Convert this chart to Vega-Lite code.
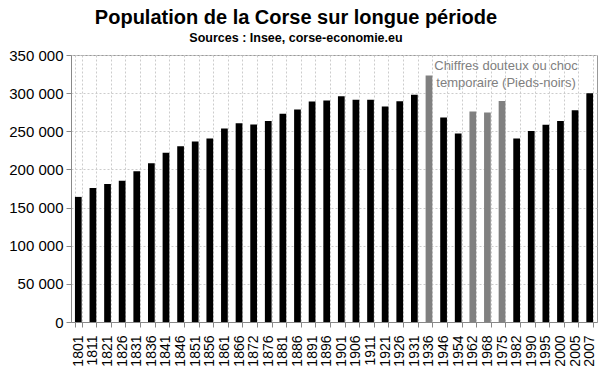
{
  "$schema": "https://vega.github.io/schema/vega-lite/v6.json",
  "width": 526,
  "height": 267,
  "autosize": "none",
  "padding": {"left": 71, "top": 55, "right": 3, "bottom": 50},
  "background": "white",
  "title": {
    "text": "Population de la Corse sur longue période",
    "subtitle": "Sources : Insee, corse-economie.eu",
    "font": "Liberation Sans",
    "fontSize": 20,
    "fontWeight": "bold",
    "color": "black",
    "subtitleFont": "Liberation Sans Narrow, Liberation Sans",
    "subtitleFontSize": 12.5,
    "subtitleFontWeight": "bold",
    "subtitleColor": "black",
    "subtitlePadding": 4,
    "anchor": "middle",
    "dx": -38,
    "offset": 4
  },
  "config": {
    "view": {"stroke": "#999999", "strokeWidth": 1},
    "font": "Liberation Sans",
    "axis": {"labelOverlap": false, "labelFlush": false},
    "axisY": {"labelOverlap": false, "labelFlush": false}
  },
  "encoding": {
    "x": {
      "field": "year",
      "type": "ordinal",
      "sort": null,
      "scale": {"paddingInner": 0.54, "paddingOuter": 0.27},
      "axis": {
        "title": null,
        "labelAngle": -90,
        "labelAlign": "right",
        "labelBaseline": "middle",
        "labelFontSize": 14,
        "labelColor": "black",
        "labelPadding": 8,
        "labelOverlap": false,
        "tickBand": "extent",
        "tickSize": 5,
        "tickColor": "#888888",
        "domainColor": "#888888",
        "grid": true,
        "gridColor": "#cccccc",
        "gridDash": [2, 2],
        "gridWidth": 1
      }
    },
    "y": {
      "field": "pop",
      "type": "quantitative",
      "scale": {"domain": [0, 350000], "nice": false},
      "axis": {
        "title": null,
        "values": [0, 50000, 100000, 150000, 200000, 250000, 300000, 350000],
        "labelExpr": "replace(format(datum.value, ','), ',', ' ')",
        "labelFontSize": 15,
        "labelColor": "black",
        "labelPadding": 3,
        "labelOverlap": false,
        "labelFlush": false,
        "tickSize": 5,
        "tickColor": "#888888",
        "domainColor": "#888888",
        "grid": true,
        "gridColor": "#cccccc",
        "gridDash": [2, 2],
        "gridWidth": 1
      }
    }
  },
  "layer": [
    {
      "data": {
        "values": [
          {"year": "1801", "pop": 164000, "type": "n"},
          {"year": "1811", "pop": 175500, "type": "n"},
          {"year": "1821", "pop": 181000, "type": "n"},
          {"year": "1826", "pop": 185000, "type": "n"},
          {"year": "1831", "pop": 197500, "type": "n"},
          {"year": "1836", "pop": 208000, "type": "n"},
          {"year": "1841", "pop": 222000, "type": "n"},
          {"year": "1846", "pop": 230500, "type": "n"},
          {"year": "1851", "pop": 236500, "type": "n"},
          {"year": "1856", "pop": 240500, "type": "n"},
          {"year": "1861", "pop": 253500, "type": "n"},
          {"year": "1866", "pop": 260500, "type": "n"},
          {"year": "1872", "pop": 259000, "type": "n"},
          {"year": "1876", "pop": 263500, "type": "n"},
          {"year": "1881", "pop": 273000, "type": "n"},
          {"year": "1886", "pop": 278500, "type": "n"},
          {"year": "1891", "pop": 289000, "type": "n"},
          {"year": "1896", "pop": 290500, "type": "n"},
          {"year": "1901", "pop": 296000, "type": "n"},
          {"year": "1906", "pop": 291500, "type": "n"},
          {"year": "1911", "pop": 291500, "type": "n"},
          {"year": "1921", "pop": 282500, "type": "n"},
          {"year": "1926", "pop": 289500, "type": "n"},
          {"year": "1931", "pop": 298000, "type": "n"},
          {"year": "1936", "pop": 323000, "type": "d"},
          {"year": "1946", "pop": 268000, "type": "n"},
          {"year": "1954", "pop": 247000, "type": "n"},
          {"year": "1962", "pop": 276000, "type": "d"},
          {"year": "1968", "pop": 274500, "type": "d"},
          {"year": "1975", "pop": 289800, "type": "d"},
          {"year": "1982", "pop": 240500, "type": "n"},
          {"year": "1990", "pop": 250500, "type": "n"},
          {"year": "1995", "pop": 258500, "type": "n"},
          {"year": "2000", "pop": 263500, "type": "n"},
          {"year": "2005", "pop": 277500, "type": "n"},
          {"year": "2007", "pop": 300000, "type": "n"}
        ]
      },
      "mark": {"type": "bar"},
      "encoding": {
        "color": {
          "field": "type",
          "type": "nominal",
          "scale": {"domain": ["n", "d"], "range": ["#000000", "#808080"]},
          "legend": null
        }
      }
    },
    {
      "data": {
        "values": [
          {"year": "1975", "pop": 335500, "label": "Chiffres douteux ou choc"},
          {"year": "1975", "pop": 313500, "label": "temporaire (Pieds-noirs)"}
        ]
      },
      "mark": {
        "type": "text",
        "align": "center",
        "baseline": "middle",
        "dx": 4,
        "fontSize": 13,
        "color": "#808080",
        "font": "Liberation Sans"
      },
      "encoding": {
        "text": {"field": "label"}
      }
    }
  ]
}
